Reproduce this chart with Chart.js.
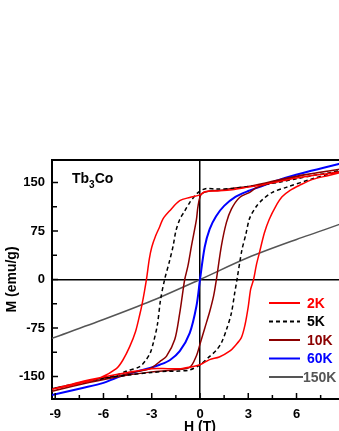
<!DOCTYPE html>
<html lang="en">
<head>
  <meta charset="UTF-8">
  <title>Tb3Co M(H)</title>
  <script src="https://cdn.jsdelivr.net/npm/chart.js"></script>
  <style>
    html, body { margin: 0; padding: 0; overflow: hidden; background: #fff; }
    canvas { display: block; }
  </style>
</head>
<body>
  <canvas id="myChart" width="348" height="431"></canvas>

  <script>
    const h2K_down = [9, 8, 7, 6, 5, 4, 3, 2, 1, 0.3, 0, -0.64, -1.26, -1.9, -2.3, -2.5, -2.75, -3.0, -3.15, -3.3, -3.45, -3.6, -3.75, -4.0, -4.37, -4.8, -5.2, -6.2, -7.5, -9.2];
    const m2K_down = [168, 164, 161, 157, 152, 147, 143, 139, 137, 136, 131, 127, 122, 106, 94, 82, 68, 50, 32, 5, -18, -38, -55, -80, -104, -125, -138, -152, -161, -170];
    const h2K_up = [-9.2, -7.5, -6, -4.5, -3, -2, -1.2, -0.5, 0, 0.6, 1.2, 1.84, 2.2, 2.57, 2.8, 3.0, 3.15, 3.33, 3.5, 3.7, 4.0, 4.3, 4.7, 5.1, 5.6, 6.2, 7, 8, 9];
    const m2K_up = [-170, -159, -151, -144, -138, -138, -138, -135, -132, -124, -120, -111, -102, -90, -70, -42, -15, 0, 22, 42, 72, 93, 113, 128, 138, 146, 155, 161, 167];

    const h5K_down = [9, 8, 7, 6, 5, 4, 3, 2, 1, 0.4, 0, -0.3, -0.64, -1.0, -1.26, -1.5, -1.67, -1.9, -2.2, -2.45, -2.65, -2.9, -3.1, -3.4, -3.75, -4.6, -5.2, -6.2, -7.3, -9.2];
    const m5K_down = [170, 165, 161, 156, 151, 147, 144, 141, 140, 141, 137, 130, 119, 104, 93, 75, 52, 28, 0, -31, -70, -98, -114, -126, -135, -142, -148, -153, -160, -169];
    const h5K_up = [-9.2, -7.5, -6, -4.5, -3, -2, -1.47, -0.64, 0, 0.6, 1.0, 1.33, 1.64, 1.95, 2.15, 2.3, 2.6, 2.85, 3.09, 3.5, 3.9, 4.5, 5.4, 7, 8, 9];
    const m5K_up = [-169, -160, -153, -148, -144, -142, -142, -140, -132, -119, -110, -98, -78, -52, -22, 0, 45, 70, 95, 113, 124, 135, 143, 156, 163, 169];

    const h10K_down = [9, 8, 7, 6, 5, 4, 3, 2, 1.3, 0.6, 0.08, -0.12, -0.22, -0.53, -0.75, -0.95, -1.1, -1.26, -1.57, -2.09, -2.5, -3.1, -4, -5.2, -6.5, -9.2];
    const m10K_down = [172, 168, 164, 160, 155, 149, 144, 141, 138, 137, 132, 114, 93, 52, 21, 0, -25, -52, -93, -119, -127, -138, -143, -150, -157, -173];
    const h10K_up = [-9.2, -7, -5, -3, -1.67, -0.64, -0.22, 0, 0.3, 0.6, 0.85, 1.02, 1.33, 1.64, 1.95, 2.46, 3.09, 3.5, 4.5, 6, 7, 8, 9];
    const m10K_up = [-173, -160, -150, -143, -140, -136, -118, -100, -75, -50, -25, 0, 52, 88, 109, 127, 135, 142, 150, 159, 164, 168, 172];

    const h60K = [-9.2, -7.3, -6, -5.2, -4, -3.1, -2.5, -1.88, -1.26, -0.64, -0.22, 0, 0.29, 0.6, 1.0, 1.5, 2.2, 3.0, 3.9, 5, 6.4, 8, 9];
    const m60K = [-179, -168, -160, -152, -143, -137, -132, -125, -111, -83, -41, 0, 50, 78, 98, 114, 128, 137, 145, 155, 165, 175, 181];

    const h150K = [-9.2, -6, -3, 0, 3, 6, 9];
    const m150K = [-91, -62, -33, 0, 34, 62, 88];

    const seriesLabels = ['2K', '5K', '10K', '60K', '150K'];
    const xTicks = [-9, -6, -3, 0, 3, 6, 9];
    const xMinor = [-7.5, -4.5, -1.5, 1.5, 4.5, 7.5];
    const yTicks = [-150, -75, 0, 75, 150];
    const yMinor = [-112.5, -37.5, 37.5, 112.5];

    const FONT = "'Liberation Sans', Arial, sans-serif";

    function pts(hs, ms) {
      return hs.map((h, i) => ({ x: h, y: ms[i] }));
    }

    // box top, inward ticks, legend and sample name
    const decor = {
      id: 'decor',
      afterDraw(chart) {
        const { ctx, chartArea: a, scales } = chart;
        const x = scales.x, y = scales.y;
        ctx.save();
        ctx.strokeStyle = '#000';
        ctx.lineWidth = 2;
        ctx.beginPath();
        ctx.moveTo(a.left - 1, a.top);
        ctx.lineTo(a.right, a.top);
        ctx.lineTo(a.right, a.bottom);
        ctx.stroke();

        ctx.lineWidth = 1.5;
        ctx.beginPath();
        xTicks.forEach(v => { const p = x.getPixelForValue(v); ctx.moveTo(p, a.bottom); ctx.lineTo(p, a.bottom - 6); });
        xMinor.forEach(v => { const p = x.getPixelForValue(v); ctx.moveTo(p, a.bottom); ctx.lineTo(p, a.bottom - 4); });
        yTicks.forEach(v => { const p = y.getPixelForValue(v); ctx.moveTo(a.left, p); ctx.lineTo(a.left + 6, p); });
        yMinor.forEach(v => { const p = y.getPixelForValue(v); ctx.moveTo(a.left, p); ctx.lineTo(a.left + 5, p); });
        ctx.stroke();

        // legend
        ctx.font = 'bold 14px ' + FONT;
        ctx.textBaseline = 'middle';
        chart.data.datasets.forEach((ds, i) => {
          const ly = 303 + i * 18.5;
          ctx.strokeStyle = ds.borderColor;
          ctx.lineWidth = 2;
          ctx.setLineDash(ds.borderDash || []);
          ctx.beginPath();
          ctx.moveTo(269, ly);
          ctx.lineTo(i === 4 ? 303 : 300, ly);
          ctx.stroke();
          ctx.setLineDash([]);
          ctx.fillStyle = ds.borderColor;
          ctx.fillText(ds.label, i === 4 ? 303 : 307, ly + 1);
        });

        // Tb3Co
        ctx.fillStyle = '#000';
        ctx.textBaseline = 'alphabetic';
        ctx.font = 'bold 14px ' + FONT;
        let tx = 72;
        ctx.fillText('Tb', tx, 183);
        tx += ctx.measureText('Tb').width;
        ctx.font = 'bold 10px ' + FONT;
        ctx.fillText('3', tx, 188);
        tx += ctx.measureText('3').width;
        ctx.font = 'bold 14px ' + FONT;
        ctx.fillText('Co', tx, 183);
        ctx.restore();
      }
    };

    const zeroLine = c => (c.tick && c.tick.value === 0) ? '#000' : 'rgba(0,0,0,0)';

    const ctx = document.getElementById('myChart').getContext('2d');
    const myChart = new Chart(ctx, {
      type: 'scatter',
      data: {
        datasets: [
          { label: seriesLabels[0], data: pts(h2K_down.concat(h2K_up), m2K_down.concat(m2K_up)), borderColor: '#ff0000', borderWidth: 1.5 },
          { label: seriesLabels[1], data: pts(h5K_down.concat(h5K_up), m5K_down.concat(m5K_up)), borderColor: '#000000', borderWidth: 1.5, borderDash: [4, 3] },
          { label: seriesLabels[2], data: pts(h10K_down.concat(h10K_up), m10K_down.concat(m10K_up)), borderColor: '#8b0000', borderWidth: 1.5 },
          { label: seriesLabels[3], data: pts(h60K, m60K), borderColor: '#0000ff', borderWidth: 2 },
          { label: seriesLabels[4], data: pts(h150K, m150K), borderColor: '#555555', borderWidth: 1.5 }
        ]
      },
      options: {
        responsive: false,
        animation: false,
        showLine: true,
        layout: { padding: { top: 160, right: 0, bottom: 0, left: 0 } },
        elements: {
          point: { radius: 0, hoverRadius: 0 },
          line: { tension: 0.3, fill: false }
        },
        plugins: {
          legend: { display: false },
          tooltip: { enabled: false }
        },
        scales: {
          x: {
            type: 'linear',
            min: -9.2,
            max: 9.2,
            afterBuildTicks: s => { s.ticks = xTicks.map(v => ({ value: v })); },
            afterFit: s => { s.height = 32; s.paddingLeft = 0; s.paddingRight = 0; },
            border: { color: '#000', width: 2 },
            grid: { drawTicks: false, color: zeroLine, lineWidth: 1.5 },
            ticks: { color: '#000', padding: 8, maxRotation: 0, autoSkip: false, font: { family: FONT, size: 13, weight: 'bold' } },
            title: {
              display: true, text: 'H (T)', color: '#000',
              font: { family: FONT, size: 14, weight: 'bold', lineHeight: 1 },
              padding: { top: 0, bottom: -3 }
            }
          },
          y: {
            type: 'linear',
            min: -185,
            max: 185,
            afterBuildTicks: s => { s.ticks = yTicks.map(v => ({ value: v })); },
            afterFit: s => { s.width = 52; s.paddingTop = 0; s.paddingBottom = 0; },
            border: { color: '#000', width: 2 },
            grid: { drawTicks: false, color: zeroLine, lineWidth: 1.5 },
            ticks: { color: '#000', padding: 7, autoSkip: false, font: { family: FONT, size: 13, weight: 'bold' } },
            title: {
              display: true, text: 'M (emu/g)', color: '#000',
              font: { family: FONT, size: 14, weight: 'bold' },
              padding: { top: 3.6, bottom: 0 }
            }
          }
        }
      },
      plugins: [decor]
    });
  </script>
</body>
</html>
